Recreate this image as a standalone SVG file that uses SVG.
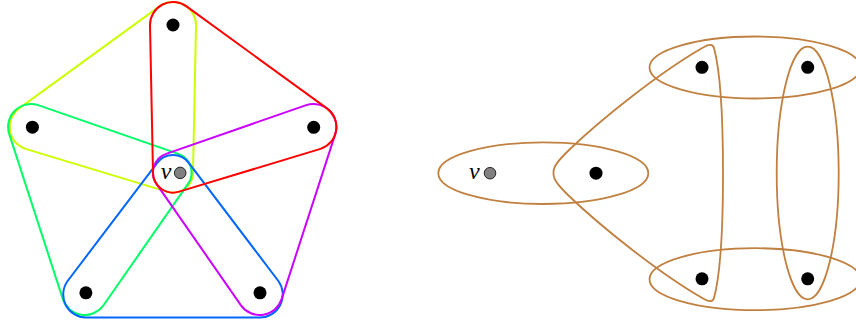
<svg xmlns="http://www.w3.org/2000/svg" width="856" height="329" viewBox="0 0 856 329">
  <defs>
    <style>
      .he { fill: none; stroke-width: 2; stroke-linejoin: round; }
      .br { fill: none; stroke: #C08040; stroke-width: 1.8; }
      .dot { fill: #000000; }
      .vdot { fill: #808080; stroke: #000000; stroke-width: 0.8; }
      .lbl { font-family: "Liberation Serif", "DejaVu Serif", serif; font-style: italic; font-size: 24px; fill: #000000; text-anchor: middle; }
    </style>
    <path id="edgeShape" d="M 186.52,6.39 L 326.92,108.39 A 23 23 0 0 1 320.51,148.87 L 179.18,191.62 A 20 20 0 0 1 153,172.6 L 150,25 A 23 23 0 0 1 186.52,6.39 Z"/>
  </defs>
  <rect width="856" height="329" fill="#ffffff"/>

  <!-- hyperedges (connectors) -->
  <g id="connectors">
    <g id="left-hyperedges">
      <use href="#edgeShape" class="he" stroke="#CCFF00" transform="rotate(-72 173 172.6)"/>
      <use href="#edgeShape" class="he" stroke="#00FF66" transform="translate(-1.5 0) rotate(-144 173 172.6)"/>
      <use href="#edgeShape" class="he" stroke="#0066FF" transform="translate(0 2.5) rotate(144 173 172.6)"/>
      <use href="#edgeShape" class="he" stroke="#CC00FF" transform="rotate(72 173 172.6)"/>
      <use href="#edgeShape" class="he" stroke="#FF0000" stroke-width="2.2"/>
    </g>
    <g id="right-hyperedges">
      <ellipse class="br" cx="543.3" cy="173.2" rx="105" ry="30.8"/>
      <ellipse class="br" cx="755" cy="67.5" rx="105.5" ry="31"/>
      <ellipse class="br" cx="755" cy="279.2" rx="105.5" ry="31"/>
      <ellipse class="br" cx="807.7" cy="173" rx="31" ry="126.3"/>
      <path class="br" d="M 553.5,173 C 553,166 560,159 568,151 C 600,120 660,72 704,47 C 709,44 713,44 714,48 C 720,70 723,120 723,173 C 723,226 720,276 714,298 C 713,302 709,302 704,299 C 660,274 600,226 568,195 C 560,187 553,180 553.5,173 Z"/>
    </g>
  </g>

  <!-- left diagram nodes -->
  <g id="L-top"><circle class="dot" cx="173" cy="25" r="6.5"/></g>
  <g id="L-left"><circle class="dot" cx="32.4" cy="127.2" r="6.5"/></g>
  <g id="L-right"><circle class="dot" cx="313.7" cy="127.3" r="6.5"/></g>
  <g id="L-botleft"><circle class="dot" cx="85.9" cy="292.8" r="6.5"/></g>
  <g id="L-botright"><circle class="dot" cx="260" cy="292.8" r="6.5"/></g>
  <g id="L-v">
    <circle class="vdot" cx="180.2" cy="172.9" r="5.8"/>
    <text class="lbl" x="166" y="178.5">v</text>
  </g>

  <!-- right diagram nodes -->
  <g id="R-v">
    <circle class="vdot" cx="490" cy="173.2" r="5.8"/>
    <text class="lbl" x="474.3" y="178.5">v</text>
  </g>
  <g id="R-mid"><circle class="dot" cx="596" cy="173.2" r="6.5"/></g>
  <g id="R-topleft"><circle class="dot" cx="702" cy="67.3" r="6.5"/></g>
  <g id="R-topright"><circle class="dot" cx="807.7" cy="67.3" r="6.5"/></g>
  <g id="R-botleft"><circle class="dot" cx="702" cy="278.8" r="6.5"/></g>
  <g id="R-botright"><circle class="dot" cx="807.7" cy="278.8" r="6.5"/></g>
</svg>
